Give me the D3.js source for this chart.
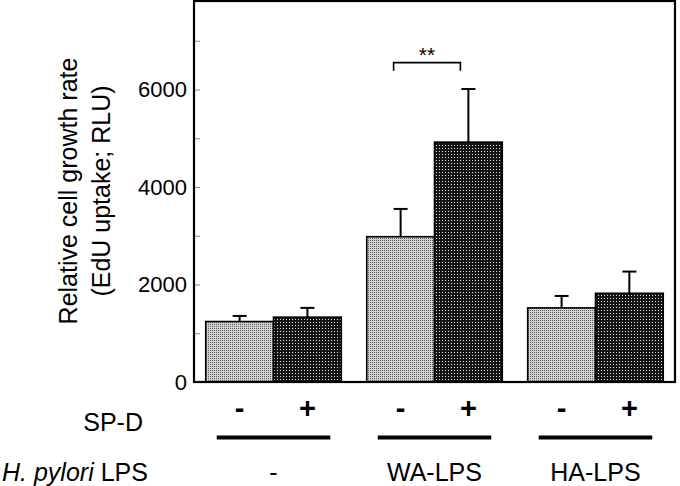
<!DOCTYPE html>
<html>
<head>
<meta charset="utf-8">
<script src="https://cdn.jsdelivr.net/npm/d3@7/dist/d3.min.js"></script>
<style>
  html, body { margin: 0; padding: 0; background: #fff; }
  svg { display: block; font-family: "Liberation Sans", Arial, sans-serif; }
</style>
</head>
<body>
<script>
// ---- data ----
const groups = ["-", "WA-LPS", "HA-LPS"];
const spd = ["-", "+"];
const meanMinus = [1240, 2980, 1520];
const meanPlus  = [1330, 4920, 1820];
const errMinus  = [115, 570, 245];
const errPlus   = [190, 1090, 445];
const yTicks = [0, 2000, 4000, 6000];
const yMinorTicks = [1000, 2000, 3000, 4000, 5000, 6000, 7000];
const sigGroup = "WA-LPS";
const sigLabel = "**";
const sigValue = 6550;

const W = 680, H = 486;
const margin = { left: 194, right: 5, top: 1, bottom: 104 };

const svg = d3.select("body").append("svg").attr("width", W).attr("height", H);

// patterns
const defs = svg.append("defs");
const pl = defs.append("pattern").attr("id", "light").attr("patternUnits", "userSpaceOnUse")
  .attr("width", 2).attr("height", 2);
pl.append("rect").attr("width", 2).attr("height", 2).attr("fill", "#d2d2d2");
pl.append("rect").attr("x", 0).attr("y", 0).attr("width", 1).attr("height", 1).attr("fill", "#5a5a5a");
const pd = defs.append("pattern").attr("id", "dark").attr("patternUnits", "userSpaceOnUse")
  .attr("width", 3).attr("height", 3);
pd.append("rect").attr("width", 3).attr("height", 3).attr("fill", "#141414");
pd.append("rect").attr("x", 1).attr("y", 1).attr("width", 1).attr("height", 1).attr("fill", "#e0e0e0");

const x0 = d3.scaleBand().domain(groups).range([margin.left, W - margin.right])
  .paddingInner(0.158).paddingOuter(0.073);
const x1 = d3.scaleBand().domain(spd).range([0, x0.bandwidth()]).padding(0);
const y = d3.scaleLinear().domain([0, 7815]).range([382, margin.top]);

// y ticks (inward)
const yAxis = d3.axisRight(y).tickValues(yMinorTicks).tickSize(6).tickFormat("");
const ya = svg.append("g").attr("transform", `translate(${margin.left},0)`).call(yAxis);
ya.select(".domain").remove();
ya.selectAll(".tick line").attr("stroke", "#888").attr("stroke-width", 1);

// tick labels
const yLab = d3.axisLeft(y).tickValues(yTicks).tickSize(0).tickPadding(7).tickFormat(d3.format("d"));
const yl = svg.append("g").attr("transform", `translate(${margin.left},0)`).call(yLab);
yl.select(".domain").remove();
yl.selectAll("text").attr("font-size", 22).attr("font-family", "Liberation Sans, Arial, sans-serif").attr("fill", "#000");

// bars
const rows = [];
groups.forEach((g, i) => {
  rows.push({ g, s: "-", v: meanMinus[i], e: errMinus[i] });
  rows.push({ g, s: "+", v: meanPlus[i], e: errPlus[i] });
});

// error bars
const eb = svg.append("g").attr("stroke", "#000").attr("stroke-width", 2);
rows.forEach(d => {
  const cx = x0(d.g) + x1(d.s) + x1.bandwidth() / 2;
  eb.append("line").attr("x1", cx).attr("x2", cx).attr("y1", y(d.v)).attr("y2", y(d.v + d.e));
  eb.append("line").attr("x1", cx - 7).attr("x2", cx + 7).attr("y1", y(d.v + d.e)).attr("y2", y(d.v + d.e));
});

svg.append("g").selectAll("rect").data(rows).join("rect")
  .attr("x", d => x0(d.g) + x1(d.s))
  .attr("y", d => y(d.v))
  .attr("width", x1.bandwidth())
  .attr("height", d => y(0) - y(d.v))
  .attr("fill", d => d.s === "-" ? "url(#light)" : "url(#dark)")
  .attr("stroke", "#000").attr("stroke-width", 1.6);

// frame
svg.append("rect").attr("x", margin.left).attr("y", margin.top)
  .attr("width", W - margin.right - margin.left).attr("height", y(0) - margin.top)
  .attr("fill", "none").attr("stroke", "#000").attr("stroke-width", 2.2);

// significance bracket
{
  const bx1 = x0(sigGroup) + x1("-") + x1.bandwidth() / 2 - 7;
  const bx2 = x0(sigGroup) + x1("+") + x1.bandwidth() / 2 - 8;
  const by = y(sigValue);
  svg.append("path").attr("d", `M${bx1},${by + 8}V${by}H${bx2}V${by + 8}`)
    .attr("fill", "none").attr("stroke", "#000").attr("stroke-width", 1.6);
  svg.append("text").attr("x", (bx1 + bx2) / 2).attr("y", by - 1)
    .attr("text-anchor", "middle").attr("font-size", 21).text(sigLabel);
}

// y title
const yt = svg.append("text").attr("transform", `translate(77,191) rotate(-90)`)
  .attr("text-anchor", "middle").attr("font-size", 25);
yt.append("tspan").attr("x", 0).attr("y", 0).text("Relative cell growth rate");
yt.append("tspan").attr("x", 0).attr("y", 33).text("(EdU uptake; RLU)");

// SP-D row
svg.append("text").attr("x", 143).attr("y", 431).attr("text-anchor", "end").attr("font-size", 25).text("SP-D");
groups.forEach(g => {
  spd.forEach(s => {
    svg.append("text").attr("x", x0(g) + x1(s) + x1.bandwidth() / 2).attr("y", 418)
      .attr("text-anchor", "middle").attr("font-size", 29).attr("font-weight", "bold").text(s);
  });
  svg.append("line").attr("x1", x0(g) + 11).attr("x2", x0(g) + x0.bandwidth() - 11)
    .attr("y1", 437.5).attr("y2", 437.5).attr("stroke", "#000").attr("stroke-width", 4);
  svg.append("text").attr("x", x0(g) + x0.bandwidth() / 2).attr("y", 481)
    .attr("text-anchor", "middle").attr("font-size", 25).text(g);
});

const lt = svg.append("text").attr("x", 2).attr("y", 481).attr("font-size", 25);
lt.append("tspan").attr("font-style", "italic").text("H. pylori");
lt.append("tspan").text(" LPS");
</script>
</body>
</html>
